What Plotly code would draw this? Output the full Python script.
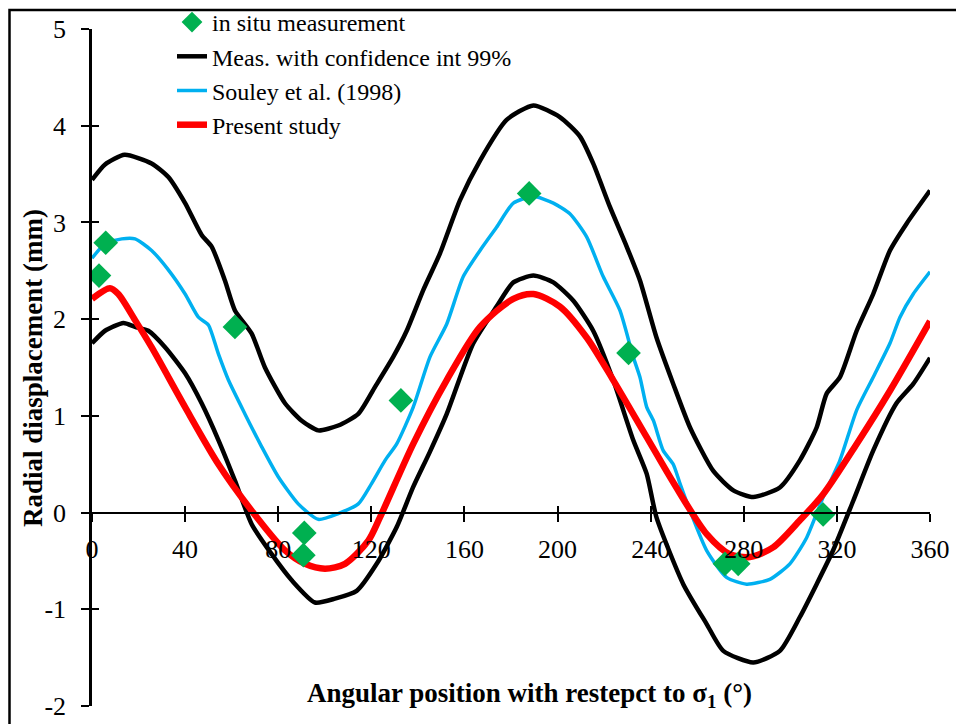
import plotly.graph_objects as go

# ---------------- data ----------------
upper_x = [0, 5.6, 14, 25.6, 32.8, 40, 47.1, 51.4, 57.1, 61.4, 68.6, 74.3, 82.9, 90.1, 97.2, 105.8,
           114.4, 121.6, 129.4, 135.2, 142.3, 149.5, 158.1, 166.7, 178.1, 189.6, 201, 209.6, 215.3,
           222.5, 229.7, 235.4, 242.5, 249.7, 256.9, 266.9, 275.5, 284.1, 295.5, 304.1, 311.3, 315.6,
           321.3, 328.5, 335.6, 342.8, 350, 360]
upper_y = [3.44, 3.60, 3.70, 3.61, 3.47, 3.20, 2.87, 2.75, 2.40, 2.09, 1.85, 1.50, 1.13, 0.95, 0.85, 0.90,
           1.02, 1.30, 1.61, 1.88, 2.30, 2.68, 3.23, 3.64, 4.06, 4.21, 4.09, 3.89, 3.61,
           3.16, 2.75, 2.40, 1.81, 1.33, 0.88, 0.43, 0.23, 0.16, 0.26, 0.54, 0.88, 1.23,
           1.40, 1.88, 2.26, 2.71, 2.99, 3.33]

lower_x = [0, 5.6, 13.5, 18.5, 24.2, 31.4, 40, 47.1, 54.3, 61.4, 68.6, 77.2, 85.8, 95.8, 104.4, 113.7,
           122.3, 130.9, 137.9, 145, 152.4, 163.8, 173.8, 181, 189.6, 198.2, 206.8, 215.3, 223.9, 232.5,
           238.3, 242.5, 254, 264, 271.2, 284.1, 295.5, 304.1, 311.3, 318.4, 327, 335.6, 345.6, 352.8, 360]
lower_y = [1.75, 1.88, 1.96, 1.92, 1.88, 1.71, 1.44, 1.13, 0.75, 0.33, -0.12, -0.43, -0.70, -0.93, -0.89, -0.81,
           -0.53, -0.15, 0.26, 0.62, 1.02, 1.75, 2.13, 2.38, 2.45, 2.38, 2.19, 1.88, 1.37, 0.75,
           0.40, -0.05, -0.74, -1.15, -1.43, -1.55, -1.43, -1.08, -0.74, -0.39, 0.12, 0.64, 1.13, 1.33, 1.60]

souley_x = [0, 5.6, 12.8, 18.5, 25.6, 32.8, 40, 45.7, 50, 54.3, 58.6, 65.7, 72.9, 80, 88.6, 97.2, 105.8,
            114.4, 120.1, 125.9, 130.9, 138, 145.2, 152.4, 159.5, 166.7, 173.8, 181, 189.6, 198.2, 205.3,
            212.5, 219.6, 226.8, 232.5, 235.4, 238.3, 241.2, 245.4, 249.7, 252.6, 256.9, 264, 272.6, 281.2,
            291.2, 299.8, 307, 314.1, 321.3, 328.5, 335.6, 342.8, 347.1, 352.8, 360]
souley_y = [2.63, 2.78, 2.83, 2.83, 2.71, 2.51, 2.26, 2.02, 1.94, 1.64, 1.37, 1.02, 0.68, 0.37, 0.09, -0.07, -0.01,
            0.09, 0.30, 0.54, 0.71, 1.09, 1.61, 1.95, 2.44, 2.71, 2.95, 3.20, 3.27, 3.20, 3.09,
            2.85, 2.44, 2.09, 1.61, 1.40, 1.09, 0.95, 0.64, 0.50, 0.30, 0.02, -0.39, -0.67, -0.74,
            -0.69, -0.53, -0.26, 0.16, 0.54, 1.06, 1.40, 1.75, 2.02, 2.26, 2.49]

present_x = [0, 7.7, 11.3, 18.5, 25.6, 40, 54.3, 68.6, 82.9, 91.5, 100.1, 108.7, 118.7, 123.7, 138, 152.4,
             166.7, 181, 189.6, 201, 212.5, 223.9, 238.3, 250, 264, 274, 282.6, 292.6, 304.1, 314.1,
             328.5, 342.8, 360]
present_y = [2.21, 2.32, 2.26, 1.99, 1.71, 1.09, 0.50, 0.02, -0.39, -0.53, -0.58, -0.53, -0.29, -0.05, 0.71, 1.37,
             1.92, 2.21, 2.26, 2.13, 1.81, 1.37, 0.78, 0.30, -0.22, -0.43, -0.46, -0.36, -0.08, 0.19,
             0.71, 1.26, 1.98]

insitu_x = [3.0, 5.9, 61.4, 91.2, 90.8, 132.7, 187.8, 230.5, 271.9, 277.6, 314.1]
insitu_y = [2.45, 2.79, 1.92, -0.21, -0.44, 1.16, 3.30, 1.65, -0.53, -0.53, -0.02]

x_ticks = [0, 40, 80, 120, 160, 200, 240, 280, 320, 360]
x_ticklabels = ["0", "40", "80", "120", "160", "200", "240", "280", "320", "360"]
y_ticks = [-2, -1, 0, 1, 2, 3, 4, 5]
y_ticklabels = ["-2", "-1", "0", "1", "2", "3", "4", "5"]
x_range = [0, 360]
y_range = [-2, 5]

names = ["in situ measurement", "Meas. with confidence int 99%", "Souley et al. (1998)", "Present study"]

# ---------------- figure ----------------
FONT = "Liberation Serif"
W, H = 964, 724
OFF = 8  # page body margin offset of the figure inside the browser window
# plot area in screen pixels: x 92..930, y 29..706
ML, MT = 92 - OFF, 29 - OFF
MR, MB = W - (930 - OFF), H - (706 - OFF)
PW, PH = W - ML - MR, H - MT - MB


def px_to_paper(px, py):
    return (px - OFF - ML) / PW, (H - MB - (py - OFF)) / PH


fig = go.Figure()
fig.add_trace(go.Scatter(x=upper_x, y=upper_y, mode="lines", name=names[1],
                         line=dict(color="black", width=4.5, shape="spline", smoothing=0.6),
                         legendrank=2, legendgroup="conf"))
fig.add_trace(go.Scatter(x=lower_x, y=lower_y, mode="lines", name=names[1], showlegend=False,
                         line=dict(color="black", width=4.5, shape="spline", smoothing=0.6),
                         legendgroup="conf"))
fig.add_trace(go.Scatter(x=souley_x, y=souley_y, mode="lines", name=names[2],
                         line=dict(color="#00B0F0", width=3.5, shape="spline", smoothing=0.6), legendrank=3))
fig.add_trace(go.Scatter(x=present_x, y=present_y, mode="lines", name=names[3],
                         line=dict(color="#FF0000", width=6.5, shape="spline", smoothing=0.8), legendrank=4))
fig.add_trace(go.Scatter(x=insitu_x, y=insitu_y, mode="markers", name=names[0],
                         marker=dict(symbol="diamond", color="#00B050", size=19, line=dict(width=0)),
                         legendrank=1))
# helper trace so the secondary (inside-tick) axes exist
fig.add_trace(go.Scatter(x=[None], y=[None], xaxis="x2", yaxis="y2", showlegend=False, hoverinfo="skip",
                         mode="lines"))

x_pos = (0 - y_range[0]) / (y_range[1] - y_range[0])
tickfont = dict(family=FONT, size=26, color="black")

# legend: top-left corner placed so the first entry sits near the top of the chart
lx, ly = px_to_paper(172, 0)

fig.update_layout(
    width=W, height=H, autosize=False,
    margin=dict(l=ML, r=MR, t=MT, b=MB, autoexpand=False),
    paper_bgcolor="white", plot_bgcolor="white",
    font=dict(family=FONT, color="black"),
    xaxis=dict(range=x_range, tickvals=x_ticks, ticktext=x_ticklabels, ticks="outside", ticklen=8,
               tickwidth=2, tickcolor="black", showline=True, linewidth=2, linecolor="black",
               anchor="free", position=x_pos, showgrid=False, zeroline=False, tickfont=tickfont,
               ticklabelstandoff=5, automargin=False),
    xaxis2=dict(range=x_range, tickvals=x_ticks, ticks="inside", ticklen=7, tickwidth=2, tickcolor="black",
                showticklabels=False, showline=False, showgrid=False, zeroline=False,
                overlaying="x", anchor="free", position=x_pos, automargin=False),
    yaxis=dict(range=y_range, tickvals=y_ticks, ticktext=y_ticklabels, ticks="outside", ticklen=8,
               tickwidth=2, tickcolor="black", showline=True, linewidth=2.5, linecolor="black",
               showgrid=False, zeroline=False, tickfont=tickfont, ticklabelstandoff=10, automargin=False),
    yaxis2=dict(range=y_range, tickvals=y_ticks, ticks="inside", ticklen=7, tickwidth=2, tickcolor="black",
                showticklabels=False, showline=False, showgrid=False, zeroline=False,
                overlaying="y", anchor="x", side="left", automargin=False),
    legend=dict(xref="paper", yref="paper", x=lx, y=ly, xanchor="left", yanchor="top",
                bgcolor="rgba(0,0,0,0)", borderwidth=0, font=dict(family=FONT, size=24, color="black"),
                tracegroupgap=0),
    showlegend=True,
)

ax, ay = px_to_paper(529, 695)
yx, yy = px_to_paper(33, 368)
fig.add_annotation(text="<b>Angular position with restepct to σ<sub>1</sub> (°)</b>", x=ax, y=ay,
                   xref="paper", yref="paper", showarrow=False, xanchor="center", yanchor="middle",
                   font=dict(family=FONT, size=27, color="black"))
fig.add_annotation(text="<b>Radial diasplacement (mm)</b>", x=yx, y=yy, textangle=-90,
                   xref="paper", yref="paper", showarrow=False, xanchor="center", yanchor="middle",
                   font=dict(family=FONT, size=27, color="black"))

# outer chart frame (the reference crop shows only its top and left edges)
fx0, fy0 = px_to_paper(9.5, 10)
fx1, fy1 = px_to_paper(990, 760)
fig.add_shape(type="rect", xref="paper", yref="paper", x0=fx0, y0=fy1, x1=fx1, y1=fy0,
              line=dict(color="black", width=2.5), fillcolor="rgba(0,0,0,0)", layer="above")

fig.write_html("out.html")
